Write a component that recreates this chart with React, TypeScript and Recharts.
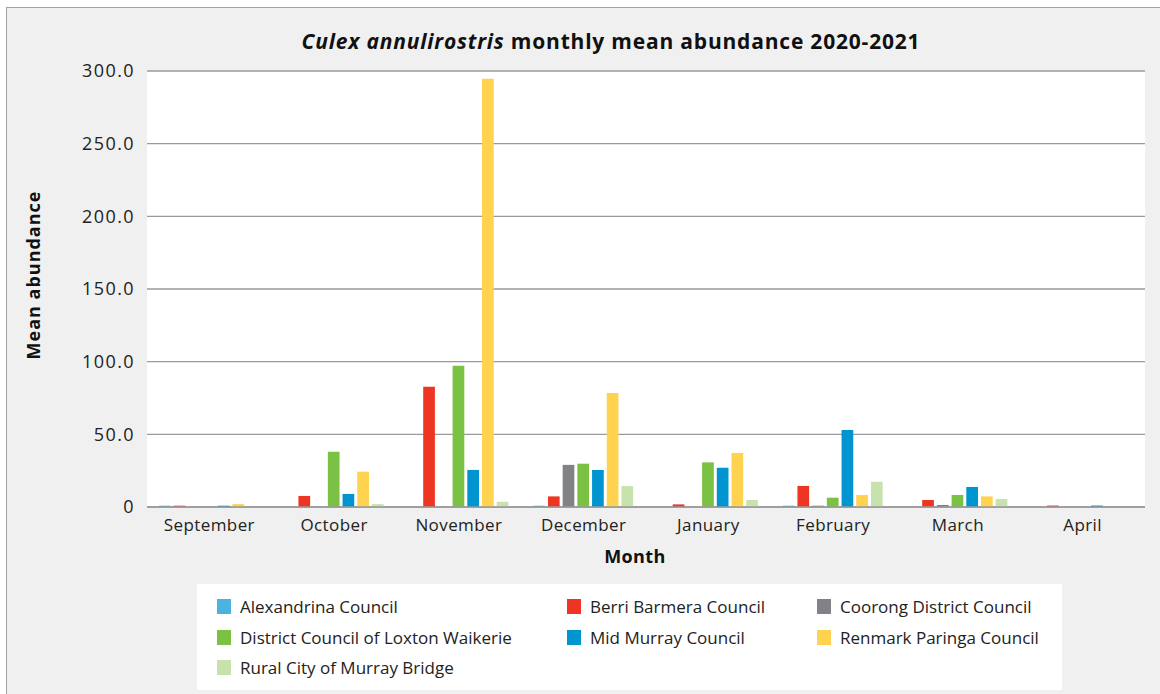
import React from "react";
import { BarChart, Bar, XAxis, YAxis, CartesianGrid } from "recharts";

const months = ["September", "October", "November", "December", "January", "February", "March", "April"];

const alexandrina = [0.9, 0, 0, 0.9, 0, 0.9, 0, 0];
const berriBarmera = [0.9, 7.6, 82.8, 7.3, 1.8, 14.5, 4.8, 1.0];
const coorong = [0, 0, 0, 29, 0, 0.9, 1.4, 0];
const loxtonWaikerie = [0, 38, 97.2, 29.8, 30.7, 6.4, 8.3, 0];
const midMurray = [0.9, 9, 25.5, 25.5, 27, 53, 13.8, 1.0];
const renmarkParinga = [2, 24.3, 294.6, 78.5, 37.2, 8.3, 7.3, 0];
const murrayBridge = [0, 2, 3.6, 14.4, 4.8, 17.4, 5.5, 0];

const yTicks = [0, 50, 100, 150, 200, 250, 300];

const series = [
  { key: "alexandrina", name: "Alexandrina Council", color: "#4bb3e0", values: alexandrina },
  { key: "berri", name: "Berri Barmera Council", color: "#ee3524", values: berriBarmera },
  { key: "coorong", name: "Coorong District Council", color: "#808285", values: coorong },
  { key: "loxton", name: "District Council of Loxton Waikerie", color: "#7bc143", values: loxtonWaikerie },
  { key: "midMurray", name: "Mid Murray Council", color: "#0094d0", values: midMurray },
  { key: "renmark", name: "Renmark Paringa Council", color: "#ffd24f", values: renmarkParinga },
  { key: "murrayBridge", name: "Rural City of Murray Bridge", color: "#c8e2ae", values: murrayBridge },
];

const data = months.map((month, i) => {
  const row: Record<string, string | number> = { month };
  series.forEach((s) => {
    row[s.key] = s.values[i];
  });
  return row;
});

const FONT = "'Open Sans', Lato, sans-serif";
const legendCols = [20, 370, 620];

export default function App() {
  return (
    <div style={{ position: "absolute", left: 0, top: 0, width: 1160, height: 694, overflow: "hidden", background: "#fff", fontFamily: FONT }}>
      <div style={{ position: "absolute", left: 6, top: 7, width: 1170, height: 700, background: "#f0f0f0", borderTop: "1px solid #a3a3a3", borderLeft: "1px solid #a3a3a3" }} />
      <div style={{ position: "absolute", left: 0, top: 27, width: 1222, textAlign: "center", fontSize: 21, fontWeight: 700, color: "#111", letterSpacing: 0.8 }}>
        <i>Culex annulirostris</i> monthly mean abundance 2020-2021
      </div>
      <div style={{ position: "absolute", left: 0, top: 0 }}>
        <BarChart
          width={1160}
          height={694}
          data={data}
          margin={{ top: 71, right: 15, left: 67, bottom: 157 }}
          barSize={11.7}
          barGap={3}
        >
          <CartesianGrid vertical={false} stroke="#9a9a9a" strokeWidth={1.3} fill="#ffffff" />
          <XAxis
            dataKey="month"
            tickLine={false}
            axisLine={{ stroke: "#9a9a9a", strokeWidth: 1.5 }}
            tick={{ fill: "#222", fontSize: 17, fontFamily: FONT, letterSpacing: 0.4 }}
            tickMargin={6}
            height={30}
            interval={0}
            label={{
              content: () => (
                <text x={635} y={563} textAnchor="middle" fill="#111" fontSize={18} fontWeight={700} fontFamily={FONT} letterSpacing={0.4}>
                  Month
                </text>
              ),
            }}
          />
          <YAxis
            domain={[0, 300]}
            ticks={yTicks}
            width={80}
            tickLine={false}
            axisLine={false}
            tickMargin={6}
            tick={{ fill: "#222", fontSize: 18, fontFamily: FONT, letterSpacing: 1.4 }}
            tickFormatter={(v: number) => (v === 0 ? "0" : v.toFixed(1))}
            label={{
              content: () => (
                <text
                  x={33}
                  y={275}
                  textAnchor="middle"
                  dominantBaseline="central"
                  transform="rotate(-90 33 275)"
                  fill="#111"
                  fontSize={18}
                  fontWeight={700}
                  fontFamily={FONT}
                  letterSpacing={1}
                >
                  Mean abundance
                </text>
              ),
            }}
          />
          {series.map((s) => (
            <Bar key={s.key} dataKey={s.key} name={s.name} fill={s.color} isAnimationActive={false} />
          ))}
        </BarChart>
      </div>
      <div style={{ position: "absolute", left: 197, top: 584, width: 865, height: 106, background: "#fff" }}>
        {series.map((s, i) => {
          const col = i % 3;
          const row = Math.floor(i / 3);
          return (
            <div
              key={s.key}
              style={{ position: "absolute", left: legendCols[col], top: 11 + row * 30.5, display: "flex", alignItems: "center", fontSize: 17, color: "#222", whiteSpace: "nowrap" }}
            >
              <span style={{ display: "inline-block", width: 14, height: 15, background: s.color, marginRight: 9 }} />
              <span>{s.name}</span>
            </div>
          );
        })}
      </div>
    </div>
  );
}
